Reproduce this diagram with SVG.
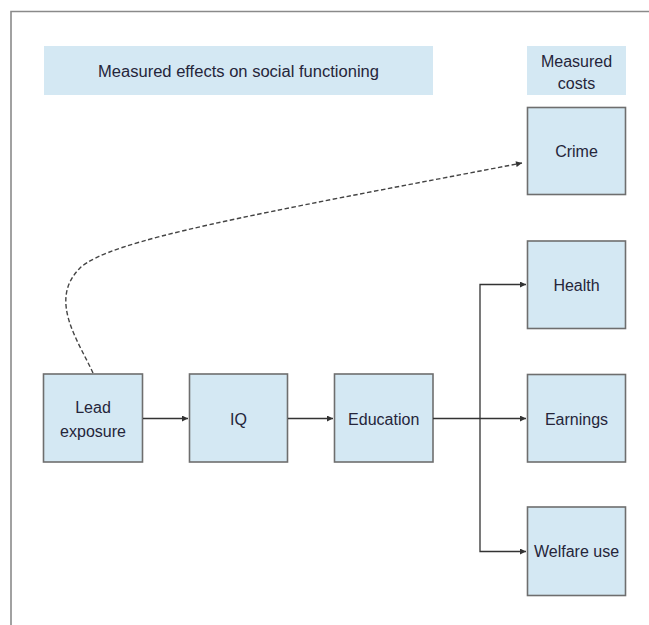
<svg xmlns="http://www.w3.org/2000/svg" width="649" height="625" viewBox="0 0 649 625">
<style>
.frame{fill:none;stroke:#8a8a8a;stroke-width:1.6}
.hdr{fill:#d4e8f3}
.box{fill:#d4e8f3;stroke:#6e6e6e;stroke-width:1.6}
.lbl{font-family:"Liberation Sans",Arial,sans-serif;font-size:16px;fill:#25253a;text-anchor:middle}
.conn{fill:none;stroke:#333;stroke-width:1.3}
.dash{fill:none;stroke:#444;stroke-width:1.4;stroke-dasharray:4.5 2.5}
</style>
<defs>
<marker id="arr" viewBox="0 0 10 10" refX="10" refY="5" markerWidth="9" markerHeight="6" markerUnits="userSpaceOnUse" orient="auto">
<path d="M0,0 L10,5 L0,10 z" fill="#333"/>
</marker>
</defs>
<path class="frame" d="M649,11.5 H11 V625"/>
<g id="header-effects">
<rect class="hdr" x="44" y="46" width="389" height="49"/>
<text class="lbl" x="238.5" y="76.5" textLength="281" lengthAdjust="spacingAndGlyphs">Measured effects on social functioning</text>
</g>
<g id="header-costs">
<rect class="hdr" x="527" y="46" width="99" height="49"/>
<text class="lbl" x="576.5" y="66.5">Measured</text>
<text class="lbl" x="576.5" y="88.5">costs</text>
</g>
<g id="crime">
<rect class="box" x="527.5" y="107.5" width="98" height="87"/>
<text class="lbl" x="576.5" y="157">Crime</text>
</g>
<g id="health">
<rect class="box" x="527.5" y="241" width="98" height="87.5"/>
<text class="lbl" x="576.5" y="290.5">Health</text>
</g>
<g id="earnings">
<rect class="box" x="527.5" y="374.5" width="98" height="87.5"/>
<text class="lbl" x="576.5" y="424.5">Earnings</text>
</g>
<g id="welfare">
<rect class="box" x="527.5" y="507" width="98" height="88.5"/>
<text class="lbl" x="576.5" y="557">Welfare use</text>
</g>
<g id="lead">
<rect class="box" x="43.5" y="374" width="99" height="88"/>
<text class="lbl" x="93" y="412.5">Lead</text>
<text class="lbl" x="93" y="436.5">exposure</text>
</g>
<g id="iq">
<rect class="box" x="189.5" y="374" width="98" height="88"/>
<text class="lbl" x="238.5" y="424.5">IQ</text>
</g>
<g id="education">
<rect class="box" x="334.5" y="374" width="98.5" height="88"/>
<text class="lbl" x="383.7" y="424.5">Education</text>
</g>
<g id="connectors">
<line class="conn" x1="143" y1="418.5" x2="188" y2="418.5" marker-end="url(#arr)"/>
<line class="conn" x1="288" y1="418.5" x2="333" y2="418.5" marker-end="url(#arr)"/>
<line class="conn" x1="433" y1="418.5" x2="526" y2="418.5" marker-end="url(#arr)"/>
<path class="conn" d="M480,418.5 V284.5 H526" marker-end="url(#arr)"/>
<path class="conn" d="M480,418.5 V551.5 H526" marker-end="url(#arr)"/>
<path class="dash" d="M93,373 C78,340 48,300 80,268 C110,240 250,215 522,163" marker-end="url(#arr)"/>
</g>
</svg>
